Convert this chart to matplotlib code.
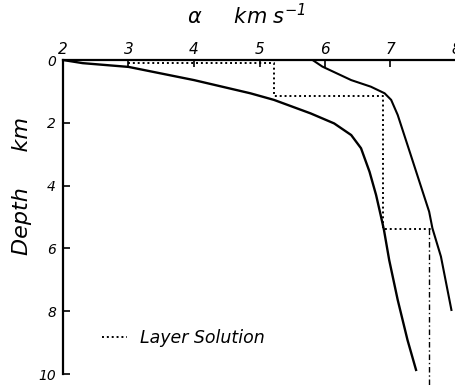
import matplotlib
matplotlib.use("Agg")
from matplotlib import pyplot as plt
from matplotlib.lines import Line2D

# velocity-depth curves (velocity km/s, depth km)
left_vel = [2.0, 2.3, 3.0, 4.0, 4.86, 5.22, 5.78, 6.14, 6.40, 6.55, 6.68,
            6.78, 6.85, 6.90, 6.98, 7.11, 7.26, 7.39]
left_depth = [0.0, 0.1, 0.22, 0.64, 1.06, 1.27, 1.70, 2.02, 2.39, 2.81, 3.56,
              4.30, 4.94, 5.41, 6.37, 7.64, 8.92, 9.87]

right_vel = [5.81, 5.96, 6.40, 6.70, 6.91, 7.01, 7.11, 7.31, 7.59, 7.64, 7.77, 7.93]
right_depth = [0.0, 0.21, 0.64, 0.85, 1.06, 1.27, 1.75, 3.03, 4.83, 5.36, 6.26, 7.96]

# layer solution (step model)
layer_vel = [3.0, 5.22, 5.22, 6.88, 6.88, 7.64]
layer_depth = [0.08, 0.08, 1.15, 1.15, 5.39, 5.39]
half_space_vel = [7.59, 7.59]
half_space_depth = [5.39, 10.35]

x_ticks = [2, 3, 4, 5, 6, 7, 8]
y_ticks = [0, 2, 4, 6, 8, 10]

plt.rcParams["font.family"] = "DejaVu Sans"
plt.rcParams["font.style"] = "italic"

fig = plt.figure(figsize=(4.56, 3.85), dpi=100)
ax = fig.add_axes([63 / 456, 11 / 385, 1 - 63 / 456, 314 / 385])

ax.plot(left_vel, left_depth, color="black", lw=1.7)
ax.plot(right_vel, right_depth, color="black", lw=1.5)
ax.plot(layer_vel, layer_depth, color="black", lw=1.4, ls=(0, (1, 1.5)))
ax.plot(half_space_vel, half_space_depth, color="black", lw=1.0,
        ls=(0, (4, 2, 1, 2)), clip_on=False)

ax.set_xlim(2, 8)
ax.set_ylim(10, 0)
ax.xaxis.tick_top()
ax.set_xticks(x_ticks)
ax.set_yticks(y_ticks)
ax.tick_params(axis="x", direction="in", length=5, width=1.2, labelsize=11, pad=2)
ax.tick_params(axis="y", direction="in", length=5, width=1.2, labelsize=10, pad=5)
for s in ["right", "bottom"]:
    ax.spines[s].set_visible(False)
for s in ["left", "top"]:
    ax.spines[s].set_linewidth(1.6)

ax.set_ylabel("Depth     km", fontsize=16)
ax.yaxis.set_label_coords(-0.078, 0.6)
fig.text(246 / 456, 1 - 16 / 385, r"$\alpha$     km s$^{-1}$", fontsize=15,
         ha="center", va="center")

handle = Line2D([], [], color="black", lw=1.4, ls=(0, (1, 1.5)))
ax.legend([handle], ["Layer Solution"], loc="center left",
          bbox_to_anchor=(0.06, 0.115), frameon=False, fontsize=12.5,
          handlelength=1.4, handletextpad=0.8)

fig.savefig("out.png", dpi=100)
